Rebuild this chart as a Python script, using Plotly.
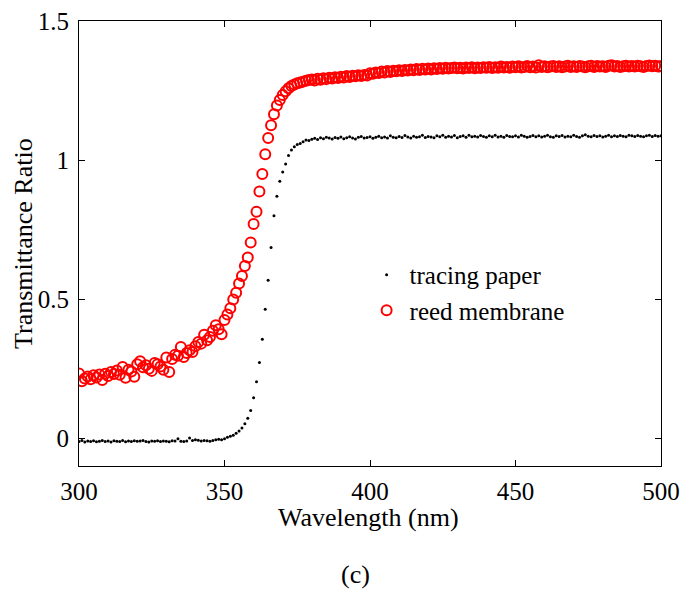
import plotly.graph_objects as go

wavelength = list(range(300, 501))

tracing_paper = [
    -0.012, -0.008, -0.014, -0.010, -0.012, -0.009, -0.013, -0.011, -0.008, -0.012,
    -0.010, -0.014, -0.009, -0.011, -0.012, -0.008, -0.013, -0.010, -0.012, -0.009,
    -0.011, -0.010, -0.008, -0.012, -0.014, -0.010, -0.011, -0.009, -0.012, -0.010,
    -0.011, -0.013, -0.009, -0.010, -0.002, -0.011, -0.012, -0.010, 0.001, -0.008,
    -0.006, -0.007, -0.010, -0.008, -0.009, -0.011, -0.008, -0.006, -0.004, -0.006,
    -0.002, 0.003, 0.007, 0.011, 0.018, 0.026, 0.037, 0.052, 0.072, 0.100,
    0.145, 0.203, 0.272, 0.356, 0.464, 0.568, 0.686, 0.800, 0.870, 0.924,
    0.957, 0.986, 1.016, 1.036, 1.048, 1.056, 1.060, 1.066, 1.072, 1.070,
    1.075, 1.078, 1.074, 1.080, 1.077, 1.082, 1.079, 1.076, 1.081, 1.078,
    1.083, 1.077, 1.080, 1.084, 1.079, 1.076, 1.082, 1.085, 1.079, 1.081,
    1.084, 1.078, 1.082, 1.086, 1.080, 1.083, 1.079, 1.087, 1.082, 1.080,
    1.085, 1.081, 1.088, 1.083, 1.079, 1.086, 1.082, 1.084, 1.089, 1.081,
    1.085, 1.083, 1.080, 1.087, 1.084, 1.089, 1.082, 1.086, 1.083, 1.088,
    1.080, 1.085, 1.087, 1.082, 1.089, 1.084, 1.086, 1.083, 1.088, 1.085,
    1.082, 1.087, 1.084, 1.089, 1.083, 1.086, 1.082, 1.088, 1.085, 1.084,
    1.087, 1.083, 1.089, 1.086, 1.082, 1.085, 1.088, 1.084, 1.087, 1.083,
    1.086, 1.089, 1.084, 1.082, 1.087, 1.085, 1.088, 1.083, 1.086, 1.084,
    1.089, 1.085, 1.082, 1.087, 1.091, 1.086, 1.084, 1.088, 1.085, 1.087,
    1.083, 1.086, 1.089, 1.084, 1.087, 1.085, 1.088, 1.086, 1.084, 1.089,
    1.087, 1.085, 1.088, 1.086, 1.084, 1.087, 1.089, 1.085, 1.088, 1.086,
    1.087,
]

reed_membrane = [
    0.233, 0.205, 0.215, 0.222, 0.212, 0.226, 0.218, 0.229, 0.209, 0.232,
    0.224, 0.238, 0.231, 0.243, 0.228, 0.256, 0.217, 0.246, 0.240, 0.221,
    0.266, 0.277, 0.255, 0.262, 0.250, 0.242, 0.270, 0.266, 0.258, 0.246,
    0.290, 0.238, 0.285, 0.300, 0.296, 0.328, 0.292, 0.306, 0.316, 0.310,
    0.331, 0.346, 0.340, 0.372, 0.352, 0.364, 0.386, 0.406, 0.392, 0.374,
    0.425, 0.445, 0.467, 0.499, 0.523, 0.556, 0.583, 0.619, 0.650, 0.704,
    0.770, 0.814, 0.887, 0.950, 1.021, 1.079, 1.125, 1.165, 1.196, 1.216,
    1.234, 1.247, 1.258, 1.266, 1.272, 1.276, 1.279, 1.282, 1.285, 1.288,
    1.290, 1.286, 1.292, 1.289, 1.294, 1.291, 1.296, 1.293, 1.298, 1.295,
    1.300, 1.297, 1.302, 1.299, 1.303, 1.301, 1.305, 1.302, 1.306, 1.304,
    1.312, 1.310, 1.315, 1.313, 1.318, 1.315, 1.320, 1.317, 1.321, 1.319,
    1.323, 1.320, 1.324, 1.322, 1.326, 1.323, 1.327, 1.324, 1.328, 1.326,
    1.329, 1.326, 1.330, 1.327, 1.331, 1.328, 1.332, 1.329, 1.331, 1.333,
    1.330, 1.332, 1.329, 1.333, 1.331, 1.334, 1.330, 1.333, 1.331, 1.334,
    1.332, 1.335, 1.331, 1.334, 1.332, 1.336, 1.333, 1.335, 1.332, 1.336,
    1.334, 1.337, 1.333, 1.335, 1.338, 1.334, 1.336, 1.333, 1.341, 1.335,
    1.337, 1.334, 1.336, 1.338, 1.335, 1.337, 1.334, 1.336, 1.339, 1.335,
    1.337, 1.335, 1.338, 1.336, 1.334, 1.337, 1.339, 1.335, 1.338, 1.336,
    1.337, 1.335, 1.339, 1.341, 1.336, 1.338, 1.335, 1.337, 1.339, 1.336,
    1.338, 1.336, 1.339, 1.337, 1.335, 1.338, 1.340, 1.337, 1.339, 1.336,
    1.338,
]

assert len(tracing_paper) == len(wavelength), len(tracing_paper)
assert len(reed_membrane) == len(wavelength), len(reed_membrane)

x_ticks = [300, 350, 400, 450, 500]
y_ticks = [0, 0.5, 1, 1.5]
y_tick_labels = ["0", "0.5", "1", "1.5"]

FONT = "Liberation Serif"

fig = go.Figure()
fig.add_trace(go.Scatter(
    x=wavelength, y=tracing_paper, mode="markers", name="tracing paper",
    legendgroup="a",
    marker=dict(color="black", size=3, symbol="circle"),
))
fig.add_trace(go.Scatter(
    x=wavelength, y=reed_membrane, mode="markers", name="reed membrane",
    legendgroup="b",
    marker=dict(color="#ff0000", size=10, symbol="circle-open",
                line=dict(width=2)),
))

axis_common = dict(
    showgrid=False, zeroline=False, showline=True, linecolor="black",
    linewidth=1.2, mirror="ticks", ticks="inside", ticklen=6, tickwidth=1,
    tickcolor="black", automargin=False,
)

fig.update_layout(
    width=682, height=590, autosize=False,
    margin=dict(l=79, r=21, t=21, b=124),
    paper_bgcolor="white", plot_bgcolor="white",
    font=dict(family=FONT, color="black", size=25),
    showlegend=True,
    legend=dict(
        x=0.489, y=0.481, xanchor="left", yanchor="top",
        bgcolor="rgba(0,0,0,0)", font=dict(size=25, family=FONT),
        itemsizing="trace", tracegroupgap=0, itemwidth=36,
    ),
    xaxis=dict(
        range=[300, 500], tickvals=x_ticks, tickfont=dict(size=25),
        ticklabelstandoff=3,
        **axis_common,
    ),
    yaxis=dict(
        range=[-0.1, 1.5], tickvals=y_ticks, ticktext=y_tick_labels,
        tickfont=dict(size=25), ticklabelstandoff=4,
        **axis_common,
    ),
    annotations=[
        dict(
            text="Transmittance Ratio", xref="paper", yref="paper",
            x=-0.0954, y=0.5, xanchor="center", yanchor="middle",
            textangle=-90, showarrow=False, font=dict(size=26, family=FONT),
        ),
        dict(
            text="Wavelength (nm)", xref="paper", yref="paper",
            x=0.498, y=-0.115, xanchor="center", yanchor="middle",
            showarrow=False, font=dict(size=26, family=FONT),
        ),
        dict(
            text="(c)", xref="paper", yref="paper", x=0.475, y=-0.243,
            xanchor="center", yanchor="middle", showarrow=False,
            font=dict(size=26, family=FONT),
        ),
    ],
)

fig.write_html(
    "out.html",
    config={"displayModeBar": False},
    post_script="document.body.style.margin='0';",
)
